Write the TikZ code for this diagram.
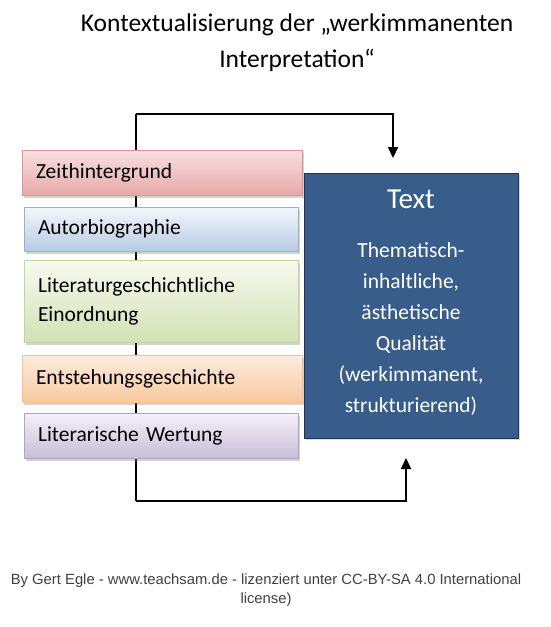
\documentclass[tikz,border=0pt]{standalone}
\usepackage{fontspec}
\setmainfont{Carlito}
\newfontfamily\capfont{Liberation Sans}
\usepackage{tikz}
\usetikzlibrary{arrows.meta,shadows}

\definecolor{textblue}{HTML}{385D8A}
\definecolor{textborder}{HTML}{1F3550}
\definecolor{pinkline}{HTML}{D99694}
\definecolor{pinktop}{HTML}{F8E0E0}
\definecolor{pinkbot}{HTML}{E6A9A8}
\definecolor{blueline}{HTML}{95B3D7}
\definecolor{bluetop}{HTML}{F4F7FB}
\definecolor{bluebot}{HTML}{B7CBE3}
\definecolor{greenline}{HTML}{C3D69B}
\definecolor{greentop}{HTML}{F7FAEF}
\definecolor{greenbot}{HTML}{D2E1B5}
\definecolor{orangeline}{HTML}{FAC090}
\definecolor{orangetop}{HTML}{FDEBDD}
\definecolor{orangebot}{HTML}{F8C9A1}
\definecolor{violetline}{HTML}{B3A2C7}
\definecolor{violettop}{HTML}{F4F1F8}
\definecolor{violetbot}{HTML}{C9BDD9}

\begin{document}
\begin{tikzpicture}[x=1pt, y=-1pt,
    ctxbox/.style={rectangle, draw=#1line, line width=0.8pt, align=left,
        top color=#1top, bottom color=#1bot,
        inner xsep=14pt, font=\fontsize{21.5}{29}\selectfont,
        drop shadow={shadow xshift=1.5pt, shadow yshift=-2.5pt, opacity=0.35}},
    link/.style={black, line width=2.2pt},
    tip/.style={-{Triangle[width=10pt,length=11pt]}}]
            \useasboundingbox (0,0) rectangle (550,627);

            % title
            \node[font=\fontsize{25.5}{36}\selectfont, align=center] (title) at (297,43)
                {Kontextualisierung der „werkimmanenten\\Interpretation“};

            % loop behind the boxes
            \coordinate (ltop) at (136,114);
            \coordinate (lbot) at (136,501);
            \coordinate (intop) at (393,158);
            \coordinate (inbot) at (406,458);
            \draw[link] (ltop) -- (lbot);
            \draw[link, tip] (ltop) -| (intop);
            \draw[link, tip] (lbot) -| (inbot);

            % the text
            \node[rectangle, fill=textblue, draw=textborder, line width=0.8pt,
                minimum width=214pt, minimum height=265pt,
                drop shadow={shadow xshift=1.5pt, shadow yshift=-2pt, opacity=0.3}] (textbox) at (411,305.5) {};
            \node[white, font=\fontsize{29}{34}\selectfont] (texthead) at (411,199) {Text};
            \node[white, align=center, font=\fontsize{21.5}{31}\selectfont] (textbody) at (411,329)
                {Thematisch-\\inhaltliche,\\ästhetische\\Qualität\\(werkimmanent,\\strukturierend)};

            % context
            \node[ctxbox=pink, minimum height=45pt, text width=252pt] (zeit) at (162,172.5) {Zeithintergrund};
            \node[ctxbox=blue, minimum height=44pt, text width=246pt] (autor) at (161,229) {Autorbiographie};
            \node[ctxbox=green, minimum height=82pt, text width=246pt] (litg) at (161,301)
                {Literaturgeschichtliche\\Einordnung};
            \node[ctxbox=orange, minimum height=47pt, text width=252pt] (entst) at (162,378.5) {Entstehungsgeschichte};
            \node[ctxbox=violet, minimum height=45pt, text width=246pt] (wert) at (161,435.5) {Literarische Wertung};

            % credit
            \node[text=black!75, align=center, font=\capfont\fontsize{14.8}{19}\selectfont] (credit)
                at (266,590) {By Gert Egle - www.teachsam.de - lizenziert unter CC-BY-SA 4.0 International\\license)};
\end{tikzpicture}
\end{document}
